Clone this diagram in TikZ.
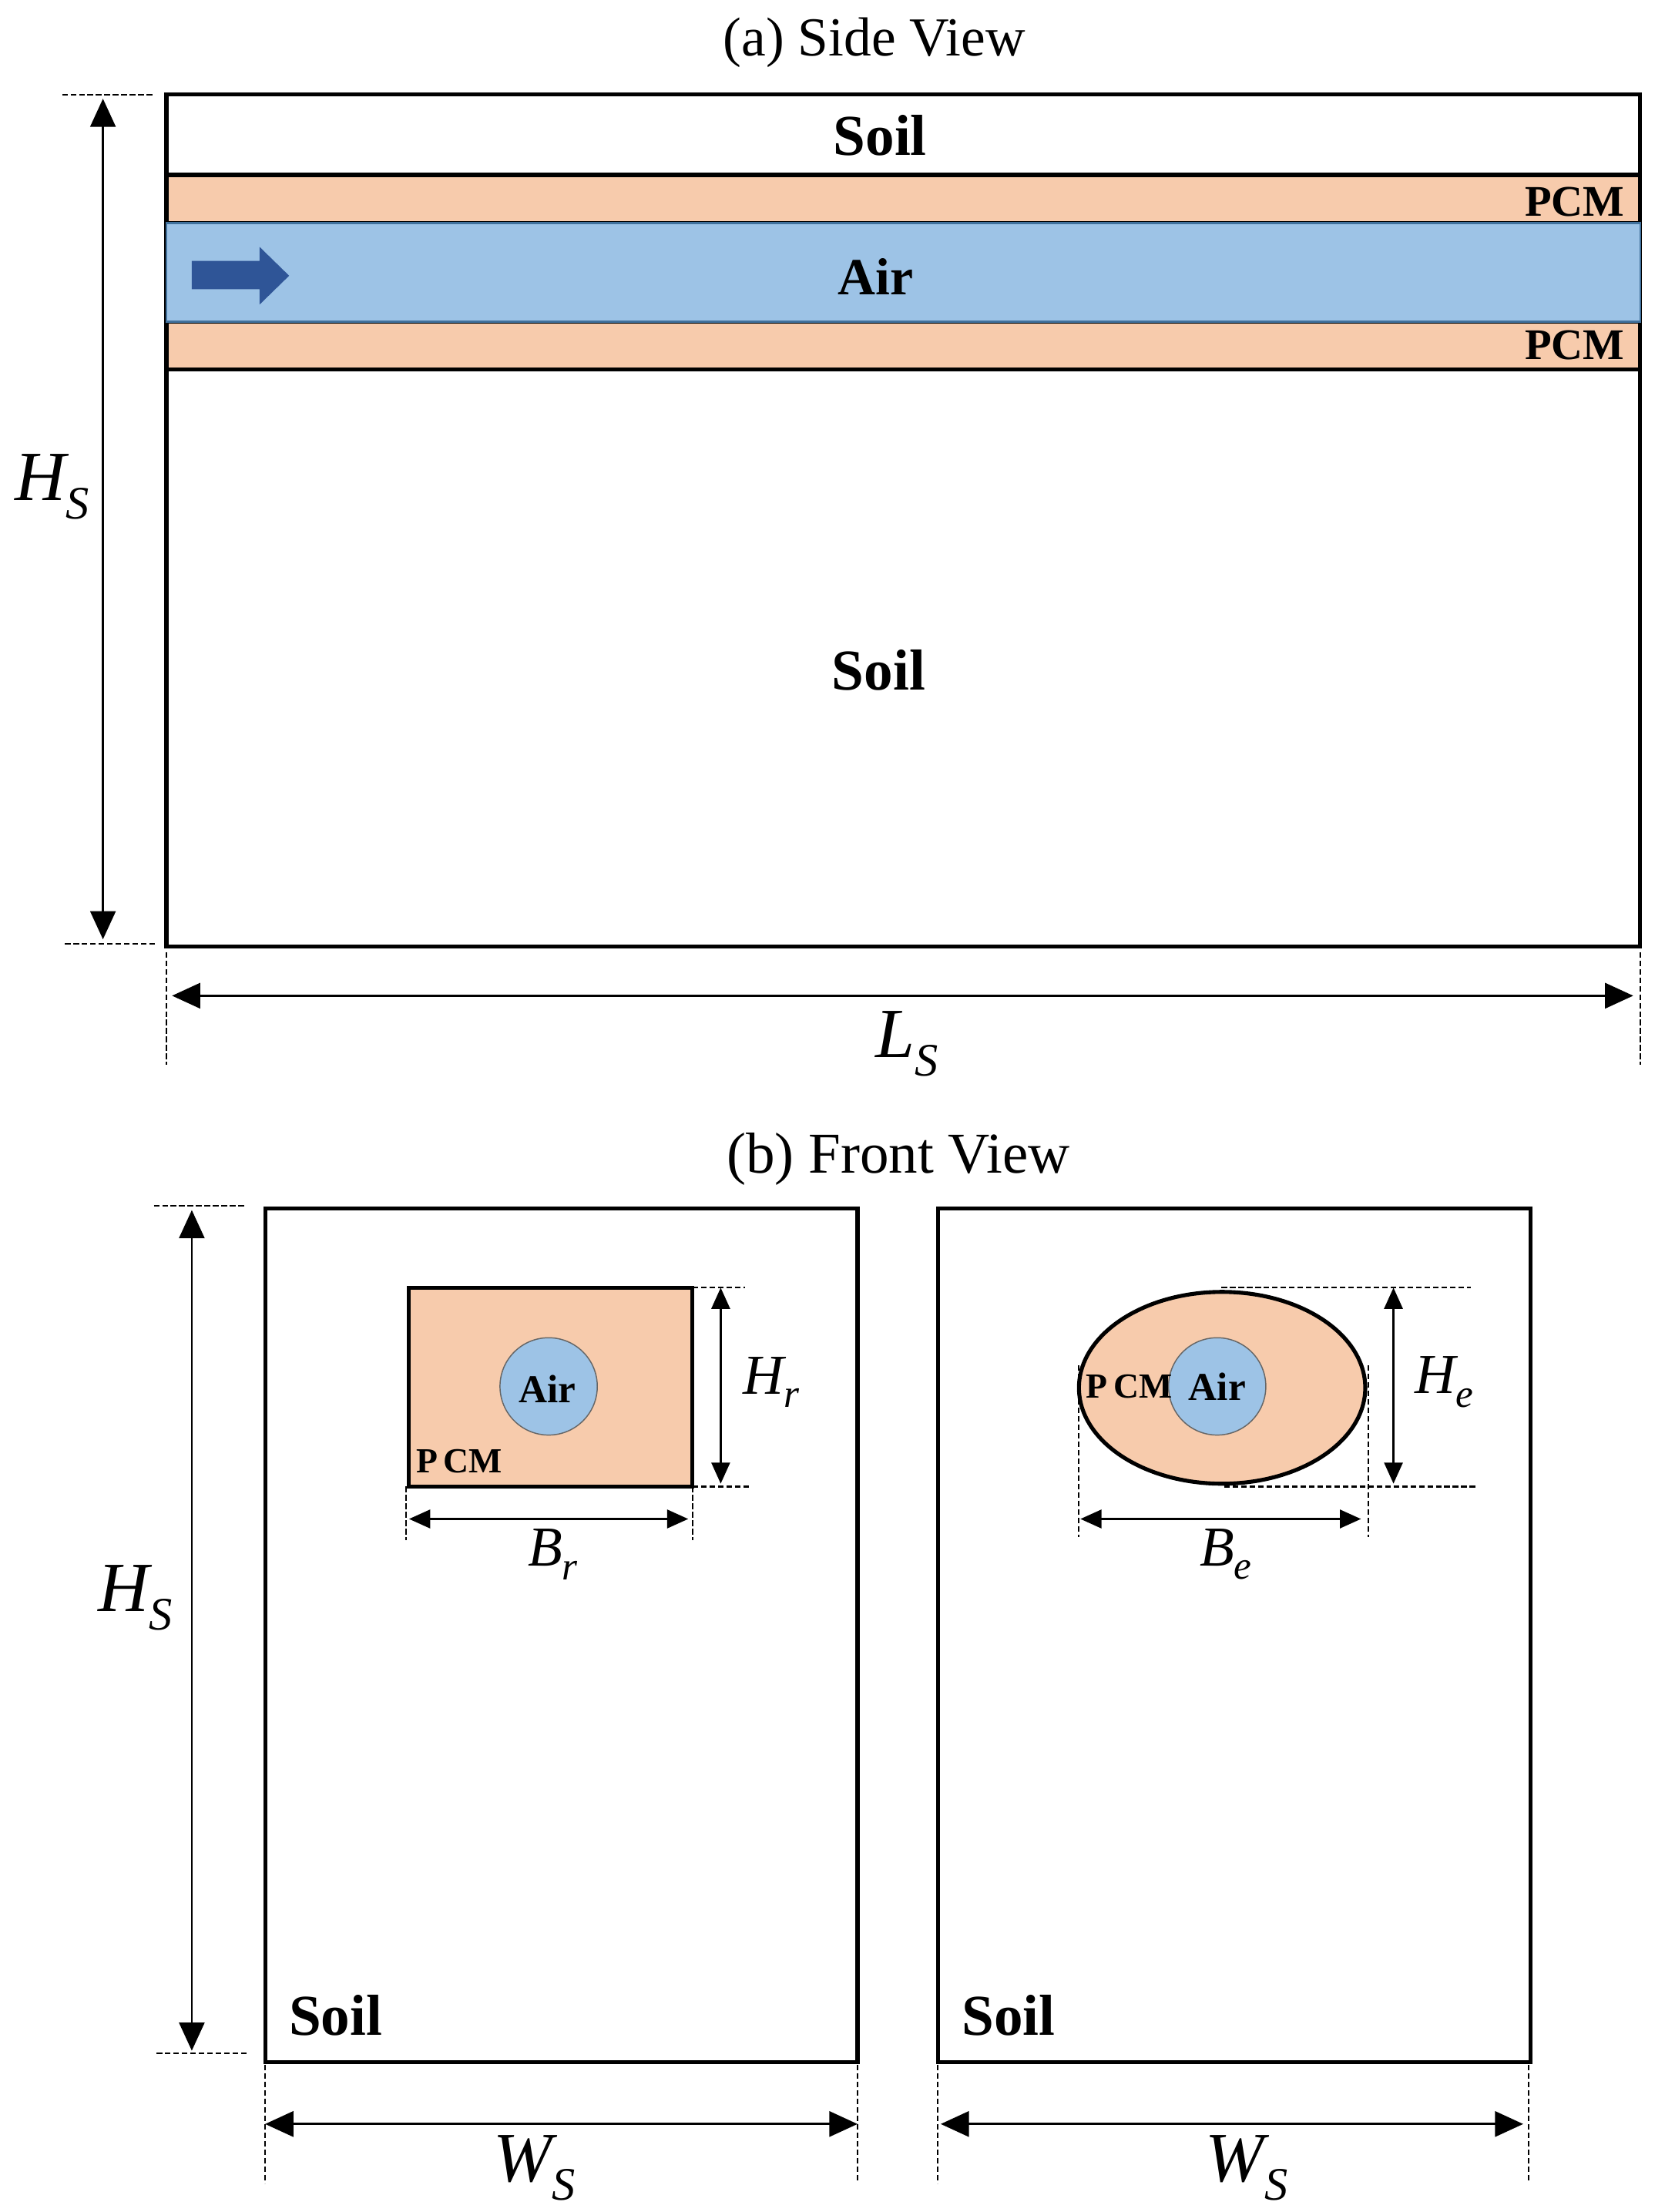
\documentclass[tikz,border=0pt]{standalone}
\usepackage{fontspec}
\setmainfont{Liberation Serif}
\usepackage{xcolor}
\usetikzlibrary{shapes.geometric,arrows.meta}
\definecolor{pcmcolor}{HTML}{F7CBAC}
\definecolor{aircolor}{HTML}{9DC3E6}
\definecolor{airedge}{HTML}{41719C}
\definecolor{flowcolor}{HTML}{2F5597}
\tikzstyle{soilbox} = [draw=black, fill=white, line width=2.8pt, rectangle, anchor=north west, outer sep=0, inner sep=0]
\tikzstyle{pcmband} = [soilbox, fill=pcmcolor]
\tikzstyle{airband} = [soilbox, fill=aircolor, draw=airedge, line width=1.4pt]
\tikzstyle{aircirc} = [draw=black!60, fill=aircolor, line width=0.8pt, circle, minimum size=69pt, inner sep=0, font=\fontsize{28}{28}\selectfont\bfseries]
\tikzstyle{title} = [inner sep=0, font=\fontsize{39}{39}\selectfont]
\tikzstyle{titlewide} = [inner sep=0, font=\fontsize{41}{41}\selectfont]
\tikzstyle{soiltext} = [inner sep=0, font=\fontsize{41}{41}\selectfont\bfseries]
\tikzstyle{airtext} = [inner sep=0, font=\fontsize{37}{37}\selectfont\bfseries]
\tikzstyle{pcmtext} = [inner sep=0, font=\fontsize{31}{31}\selectfont\bfseries]
\tikzstyle{pcmsmall} = [inner sep=0, font=\fontsize{25}{25}\selectfont\bfseries]
\tikzstyle{guide} = [dash pattern=on 4pt off 2pt, line width=1.2pt]
\tikzstyle{dimbig} = [{Triangle[length=20pt,width=18pt]}-{Triangle[length=20pt,width=18pt]}, line width=1.5pt]
\tikzstyle{dimsmall} = [{Triangle[length=15pt,width=13pt]}-{Triangle[length=15pt,width=13pt]}, line width=1.8pt]
\newcommand{\symbig}[2]{\fontsize{50}{50}\selectfont\itshape #1\raisebox{-.26em}{\fontsize{33}{33}\selectfont #2}}
\newcommand{\symsmall}[2]{\fontsize{40}{40}\selectfont\itshape #1\raisebox{-.24em}{\fontsize{28}{28}\selectfont #2}}

\begin{document}
\begin{tikzpicture}[x=1pt,y=-1pt]
\useasboundingbox (0,0) rectangle (1180,1568.4);
% side view
\node[title] (titlea) at (620,30) {(a) Side View};
\node[soilbox, minimum width=1045pt, minimum height=604pt] (side) at (118,67) {};
\node[pcmband, minimum width=1045pt, minimum height=34pt] (pcmtop) at (118,124) {};
\node[pcmband, minimum width=1045pt, minimum height=34pt] (pcmbot) at (118,228) {};
\node[airband, minimum width=1045pt, minimum height=70pt] (airband) at (118,158) {};
\node[soiltext] (soiltop) at (624,96) {Soil};
\node[soiltext] (soilbot) at (623,475) {Soil};
\node[airtext] (airside) at (621,196) {Air};
\node[pcmtext, anchor=east] (pcmlabtop) at (1152,143) {PCM};
\node[pcmtext, anchor=east] (pcmlabbot) at (1152,245) {PCM};
\fill[flowcolor] (136,185) -- (184,185) -- (184,175) -- (205,195.5) -- (184,216) -- (184,205) -- (136,205) -- cycle;
\coordinate (hsa) at (73,70);
\coordinate (hsb) at (73,666);
\coordinate (hsaa) at (44,67);
\coordinate (hsab) at (108,67);
\coordinate (hsba) at (46,669);
\coordinate (hsbb) at (110,669);
\draw[guide] (hsaa) -- (hsab);
\draw[guide] (hsba) -- (hsbb);
\draw[dimbig] (hsa) -- (hsb);
\node[inner sep=0] (hslab) at (37,345) {\symbig{H}{S}};
\coordinate (lsa) at (122,706);
\coordinate (lsb) at (1158,706);
\coordinate (lsaa) at (118,675);
\coordinate (lsab) at (118,755);
\coordinate (lsba) at (1163,675);
\coordinate (lsbb) at (1163,755);
\draw[guide] (lsaa) -- (lsab);
\draw[guide] (lsba) -- (lsbb);
\draw[dimbig] (lsa) -- (lsb);
\node[inner sep=0] (lslab) at (643,740) {\symbig{L}{S}};
% front view
\node[titlewide] (titleb) at (637,822) {(b) Front View};
\node[soilbox, minimum width=420pt, minimum height=605pt] (frontl) at (188,857) {};
\node[soilbox, minimum width=420pt, minimum height=605pt] (frontr) at (665,857) {};
\node[soiltext] (soilfl) at (238,1429) {Soil};
\node[soiltext] (soilfr) at (715,1429) {Soil};
\coordinate (hfa) at (136,858);
\coordinate (hfb) at (136,1454);
\coordinate (hfaa) at (109,855);
\coordinate (hfab) at (174,855);
\coordinate (hfba) at (111,1456);
\coordinate (hfbb) at (176,1456);
\draw[guide] (hfaa) -- (hfab);
\draw[guide] (hfba) -- (hfbb);
\draw[dimbig] (hfa) -- (hfb);
\node[inner sep=0] (hflab) at (96,1133) {\symbig{H}{S}};
% width dimensions of both sections
\foreach \nm/\xa/\xb/\ya/\yb/\xc in {l/188/608/188/608/379, r/665/1084/667/1080/884}{
  \coordinate (ws\nm a) at (\ya,1506);
  \coordinate (ws\nm b) at (\yb,1506);
  \coordinate (ws\nm aa) at (\xa,1464);
  \coordinate (ws\nm ab) at (\xa,1548);
  \coordinate (ws\nm ba) at (\xb,1464);
  \coordinate (ws\nm bb) at (\xb,1546);
  \draw[guide] (ws\nm aa) -- (ws\nm ab);
  \draw[guide] (ws\nm ba) -- (ws\nm bb);
  \draw[dimbig] (ws\nm a) -- (ws\nm b);
  \node[inner sep=0] (ws\nm lab) at (\xc,1537) {\symbig{W}{S}};
}
% rectangular section
\node[pcmband, minimum width=201pt, minimum height=141pt] (pcmrect) at (290,913) {};
\node[aircirc] (airrect) at (389,983) {};
\node[airtext, font=\fontsize{28}{28}\selectfont\bfseries] (airrectlab) at (388,985) {Air};
\node[pcmsmall, anchor=west] (pcmlabr) at (295,1036) {P\,CM};
\coordinate (hra) at (511,913);
\coordinate (hrb) at (511,1052);
\coordinate (hraa) at (491,913);
\coordinate (hrab) at (528,913);
\coordinate (hrba) at (491,1054);
\coordinate (hrbb) at (531,1054);
\draw[guide] (hraa) -- (hrab);
\draw[guide] (hrba) -- (hrbb);
\draw[dimsmall] (hra) -- (hrb);
\node[inner sep=0] (hrlab) at (547,980) {\symsmall{H}{r}};
\coordinate (bra) at (290,1077);
\coordinate (brb) at (488,1077);
\coordinate (braa) at (288,1054);
\coordinate (brab) at (288,1092);
\coordinate (brba) at (491,1054);
\coordinate (brbb) at (491,1092);
\draw[guide] (braa) -- (brab);
\draw[guide] (brba) -- (brbb);
\draw[dimsmall] (bra) -- (brb);
\node[inner sep=0] (brlab) at (392,1102) {\symsmall{B}{r}};
% elliptical section
\node[ellipse, draw=black, fill=pcmcolor, line width=2.8pt, minimum width=203pt, minimum height=136pt, inner sep=0, outer sep=0] (pcmell) at (866.5,984) {};
\node[aircirc] (airell) at (863,983) {Air};
\node[pcmsmall, anchor=west] (pcmlabe) at (770,983) {P\,CM};
\coordinate (hea) at (988,913);
\coordinate (heb) at (988,1052);
\coordinate (heaa) at (866,913);
\coordinate (heab) at (1043,913);
\coordinate (heba) at (868,1054);
\coordinate (hebb) at (1046,1054);
\draw[guide] (heaa) -- (heab);
\draw[guide] (heba) -- (hebb);
\draw[dimsmall] (hea) -- (heb);
\node[inner sep=0] (helab) at (1024,980) {\symsmall{H}{e}};
\coordinate (bea) at (766,1077);
\coordinate (beb) at (965,1077);
\coordinate (beaa) at (765,968);
\coordinate (beab) at (765,1090);
\coordinate (beba) at (970,968);
\coordinate (bebb) at (970,1090);
\draw[guide] (beaa) -- (beab);
\draw[guide] (beba) -- (bebb);
\draw[dimsmall] (bea) -- (beb);
\node[inner sep=0] (belab) at (869,1102) {\symsmall{B}{e}};
\end{tikzpicture}
\end{document}
